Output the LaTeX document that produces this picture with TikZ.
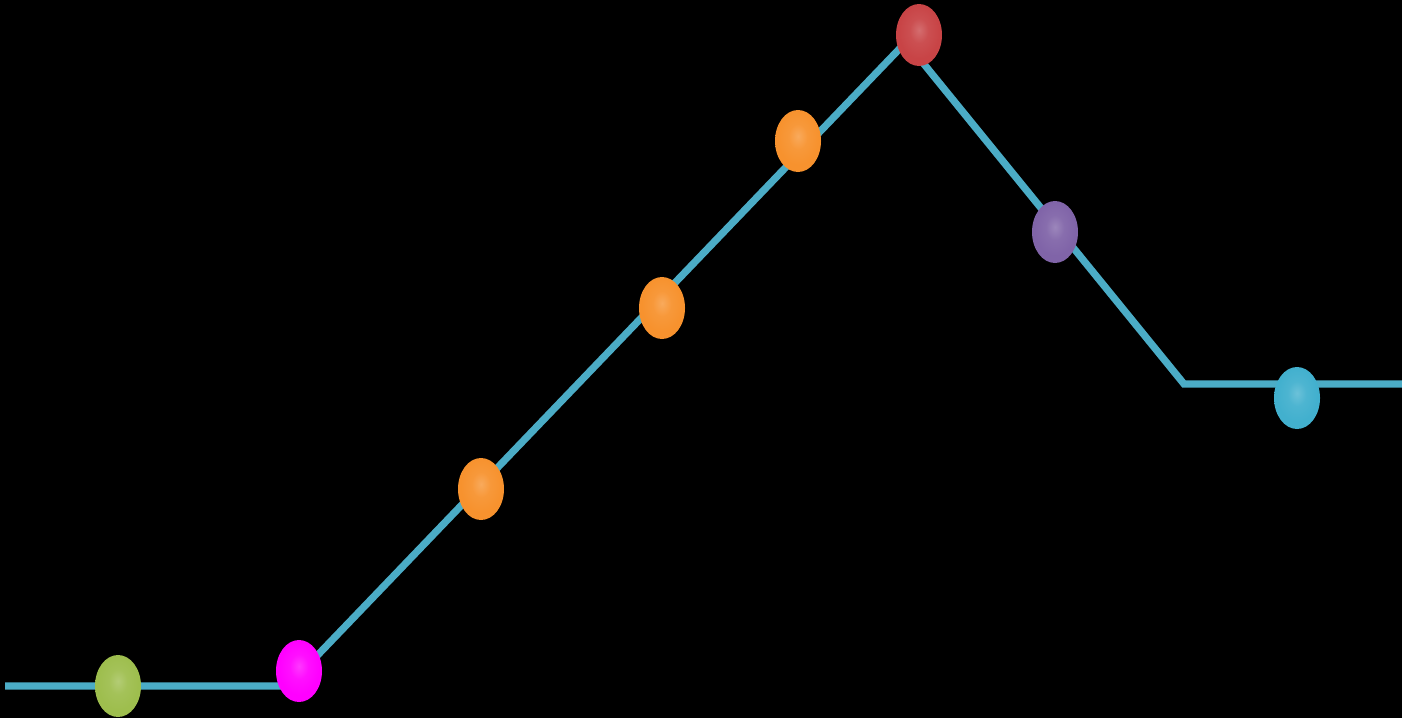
\documentclass[tikz,border=0pt]{standalone}
\usetikzlibrary{shapes.geometric}
\definecolor{linec}{HTML}{4BACC6}
\definecolor{cgreen}{HTML}{9EBE4E}
\definecolor{cmag}{HTML}{FF00FF}
\definecolor{corange}{HTML}{F7922E}
\definecolor{cred}{HTML}{C84446}
\definecolor{cpurple}{HTML}{8064A8}
\definecolor{ccyan}{HTML}{42B0CE}
\colorlet{eggc}{red}
\pgfdeclareradialshading[eggc]{egg}{\pgfpoint{0bp}{4bp}}{%
  color(0bp)=(eggc!78!white);
  color(10bp)=(eggc!94!white);
  color(22bp)=(eggc);
  color(40bp)=(eggc);
  color(48bp)=(eggc!80!black);
  color(54bp)=(eggc!55!black);
  color(80bp)=(eggc!55!black)}
\tikzset{
  egg/.style={ellipse, inner sep=0pt, minimum width=23pt, minimum height=31pt,
    shading=egg, /utils/exec={\colorlet{eggc}{#1}}},
  track/.style={draw=linec, line width=3.6pt, line join=miter}
}
\begin{document}
\begin{tikzpicture}[x=0.5pt, y=-0.5pt]
\fill[black] (0,0) rectangle (1402,718);
\useasboundingbox (0,0) rectangle (1402,718);
% track
\coordinate (a) at (5,686);
\coordinate (b) at (288,686);
\coordinate (c) at (906,42);
\coordinate (d) at (1184,384);
\coordinate (e) at (1402,384);
\draw[track] (a) -- (b) -- (c) -- (d) -- (e);
% eggs
\node[egg=cgreen]  (n1) at (118,686) {};
\node[egg=cmag]    (n2) at (299,671) {};
\node[egg=corange] (n3) at (481,489) {};
\node[egg=corange] (n4) at (662,308) {};
\node[egg=corange] (n5) at (798,141) {};
\node[egg=cred]    (n6) at (919,35) {};
\node[egg=cpurple] (n7) at (1055,232) {};
\node[egg=ccyan]   (n8) at (1297,398) {};
\end{tikzpicture}
\end{document}
